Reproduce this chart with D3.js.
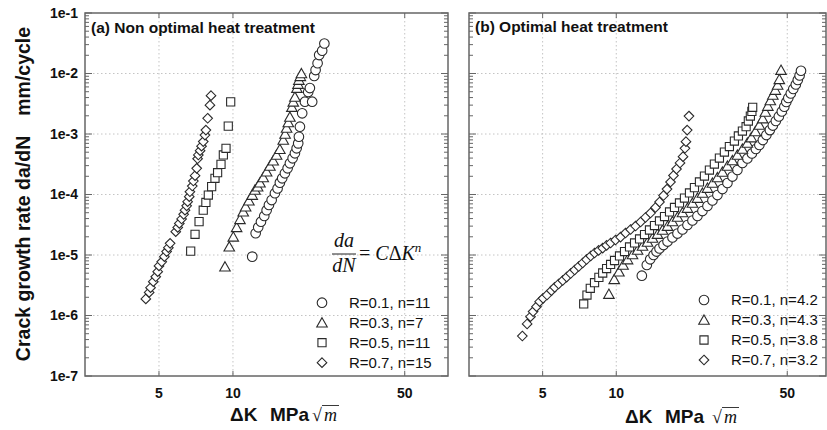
<!DOCTYPE html>
<html>
<head>
<meta charset="utf-8">
<script src="https://cdn.jsdelivr.net/npm/d3@7"></script>
<style>
  body { margin: 0; background: #fff; }
  svg { display: block; }
  text { font-family: Arial, "Liberation Sans", sans-serif; fill: #111; }
</style>
</head>
<body>
<svg id="chart" width="827" height="430"></svg>
<script>
// ---- data: [deltaK (MPa sqrt m), da/dN (mm/cycle)] ----
const aR01 = [[11.98,9.4e-6],[12.37,2.29e-5],[12.67,2.87e-5],[13.0,3.55e-5],[13.41,4.42e-5],[13.71,5.5e-5],[14.01,6.7e-5],[14.37,8.1e-5],[14.82,1.05e-4],[15.19,1.26e-4],[15.52,1.57e-4],[15.86,1.85e-4],[16.27,2.24e-4],[16.69,2.71e-4],[17.05,3.28e-4],[17.49,3.96e-4],[17.87,4.8e-4],[18.16,5.8e-4],[18.43,7.0e-4],[18.55,9.0e-4],[18.73,1.32e-3],[19.13,2.2e-3],[19.62,3.42e-3],[20.24,4.94e-3],[21.01,3.42e-3],[20.56,5.75e-3],[21.41,9.1e-3],[21.69,1.14e-2],[22.10,1.48e-2],[22.43,2.02e-2],[23.07,2.38e-2],[23.55,3.13e-2]];
const aR03 = [[9.28,6.4e-6],[9.66,1.37e-5],[10.03,2.0e-5],[10.35,2.87e-5],[10.68,3.89e-5],[11.01,5.2e-5],[11.26,6.3e-5],[11.61,7.9e-5],[11.98,9.8e-5],[12.29,1.19e-4],[12.60,1.35e-4],[12.88,1.57e-4],[13.28,1.92e-4],[13.71,2.38e-4],[14.14,2.96e-4],[14.58,3.62e-4],[15.05,4.5e-4],[15.52,5.6e-4],[16.02,8.0e-4],[16.3,1.0e-3],[16.53,1.26e-3],[16.8,1.55e-3],[17.05,1.91e-3],[17.37,2.79e-3],[17.6,3.4e-3],[17.87,4.1e-3],[18.21,5.75e-3],[18.4,6.7e-3],[18.55,7.8e-3],[18.8,9.0e-3],[18.99,1.0e-2]];
const aR05 = [[6.73,1.16e-5],[7.01,2.2e-5],[7.28,3.56e-5],[7.57,5.5e-5],[7.76,7.4e-5],[7.94,9.8e-5],[8.19,1.35e-4],[8.45,1.85e-4],[8.66,2.29e-4],[8.94,3.15e-4],[9.14,4.5e-4],[9.37,5.8e-4],[9.57,1.35e-3],[9.79,3.4e-3]];
const aR07 = [[4.42,1.88e-6],[4.56,2.41e-6],[4.62,2.88e-6],[4.74,3.62e-6],[4.85,4.37e-6],[4.94,5.3e-6],[5.0,6.6e-6],[5.13,7.7e-6],[5.26,9.4e-6],[5.37,1.14e-5],[5.46,1.32e-5],[5.55,1.56e-5],[5.85,2.43e-5],[5.96,2.86e-5],[6.05,3.33e-5],[6.18,3.94e-5],[6.30,4.7e-5],[6.38,5.5e-5],[6.48,6.5e-5],[6.54,7.6e-5],[6.64,9.2e-5],[6.68,1.11e-4],[6.83,1.38e-4],[6.90,1.67e-4],[7.01,2.05e-4],[7.12,2.71e-4],[7.18,3.9e-4],[7.23,4.5e-4],[7.35,5.3e-4],[7.45,6.3e-4],[7.57,7.5e-4],[7.69,9.6e-4],[7.76,1.16e-3],[7.89,1.82e-3],[8.06,3.0e-3],[8.14,4.3e-3]];

const bR01 = [[12.72,4.55e-6],[13.33,6.84e-6],[13.76,8.49e-6],[14.20,1.0e-5],[14.60,1.14e-5],[15.02,1.28e-5],[15.60,1.46e-5],[16.20,1.67e-5],[16.97,1.95e-5],[17.79,2.26e-5],[18.65,2.64e-5],[19.54,3.13e-5],[20.48,3.72e-5],[21.47,4.42e-5],[22.50,5.33e-5],[23.59,6.46e-5],[24.72,7.96e-5],[25.91,9.8e-5],[27.16,1.23e-4],[28.47,1.55e-4],[29.84,1.98e-4],[31.27,2.54e-4],[32.78,3.32e-4],[34.35,3.94e-4],[35.84,4.77e-4],[37.21,5.65e-4],[38.45,6.58e-4],[39.73,7.94e-4],[41.07,9.61e-4],[42.44,1.16e-3],[43.65,1.38e-3],[44.90,1.64e-3],[46.19,1.95e-3],[47.50,2.36e-3],[48.63,2.82e-3],[49.55,3.38e-3],[50.49,3.94e-3],[51.69,4.67e-3],[52.92,5.55e-3],[54.19,6.58e-3],[55.21,7.82e-3],[56.16,9.27e-3],[56.90,1.11e-2]];
const bR03 = [[9.33,2.26e-6],[9.81,3.96e-6],[10.25,5.30e-6],[10.66,6.84e-6],[11.12,8.42e-6],[11.65,1.02e-5],[12.22,1.21e-5],[12.80,1.41e-5],[13.42,1.64e-5],[14.07,1.91e-5],[14.74,2.22e-5],[15.45,2.59e-5],[16.20,3.01e-5],[16.97,3.58e-5],[17.79,4.25e-5],[18.65,5.04e-5],[19.54,5.98e-5],[20.48,7.24e-5],[21.47,8.75e-5],[22.50,1.06e-4],[23.59,1.28e-4],[24.72,1.55e-4],[25.91,1.91e-4],[27.16,2.36e-4],[28.47,2.96e-4],[29.84,3.65e-4],[31.27,4.5e-4],[32.78,5.65e-4],[34.35,7.10e-4],[35.67,8.75e-4],[37.04,1.10e-3],[38.45,1.41e-3],[39.67,1.80e-3],[40.69,2.31e-3],[41.65,2.90e-3],[42.64,3.58e-3],[43.65,4.42e-3],[44.69,5.33e-3],[45.67,6.46e-3],[46.40,8.02e-3],[47.15,1.14e-2]];
const bR05 = [[7.36,1.55e-6],[7.59,2.18e-6],[7.83,2.82e-6],[8.15,3.48e-6],[8.49,4.27e-6],[8.80,5.04e-6],[9.13,5.98e-6],[9.48,6.97e-6],[9.84,8.11e-6],[10.31,9.63e-6],[10.81,1.14e-5],[11.33,1.36e-5],[11.88,1.58e-5],[12.45,1.84e-5],[13.05,2.18e-5],[13.67,2.59e-5],[14.33,3.07e-5],[15.02,3.65e-5],[15.75,4.32e-5],[16.51,5.14e-5],[17.30,6.10e-5],[18.13,7.24e-5],[19.00,8.75e-5],[19.92,1.06e-4],[20.87,1.30e-4],[21.88,1.61e-4],[22.93,2.02e-4],[24.03,2.54e-4],[25.18,3.19e-4],[26.40,4.01e-4],[27.67,5.03e-4],[29.00,6.21e-4],[30.40,7.65e-4],[31.57,9.27e-4],[32.78,1.12e-3],[33.94,1.32e-3],[34.67,1.64e-3],[35.33,1.98e-3],[35.84,2.36e-3],[36.11,2.76e-3]];
const bR07 = [[4.13,4.58e-7],[4.32,7.24e-7],[4.46,9.55e-7],[4.57,1.16e-6],[4.72,1.40e-6],[4.86,1.69e-6],[5.02,1.92e-6],[5.21,2.18e-6],[5.43,2.57e-6],[5.60,2.92e-6],[5.81,3.32e-6],[6.04,3.79e-6],[6.27,4.32e-6],[6.51,4.94e-6],[6.76,5.65e-6],[7.02,6.46e-6],[7.29,7.38e-6],[7.56,8.42e-6],[7.86,9.63e-6],[8.15,1.08e-5],[8.47,1.19e-5],[8.80,1.30e-5],[9.13,1.44e-5],[9.48,1.58e-5],[9.93,1.77e-5],[10.41,1.98e-5],[10.91,2.31e-5],[11.44,2.64e-5],[11.99,3.01e-5],[12.57,3.51e-5],[13.17,4.17e-5],[13.80,4.94e-5],[14.47,6.10e-5],[15.02,7.52e-5],[15.60,9.62e-5],[16.12,1.23e-4],[16.66,1.61e-4],[17.13,2.06e-4],[17.63,2.64e-4],[18.22,3.32e-4],[18.74,4.22e-4],[19.09,5.81e-4],[19.27,7.46e-4],[19.49,1.16e-3],[19.82,1.98e-3]];

const legendA = ['R=0.1, n=11', 'R=0.3, n=7', 'R=0.5, n=11', 'R=0.7, n=15'];
const legendB = ['R=0.1, n=4.2', 'R=0.3, n=4.3', 'R=0.5, n=3.8', 'R=0.7, n=3.2'];
const markerKinds = ['circle', 'triangle', 'square', 'diamond'];

const xTickValues = [5, 10, 50];
const yTickValues = [1e-7, 1e-6, 1e-5, 1e-4, 1e-3, 1e-2, 1e-1];
const yTickLabels = ['1e-7', '1e-6', '1e-5', '1e-4', '1e-3', '1e-2', '1e-1'];

// ---- layout ----
const svg = d3.select('#chart');
const plotTop = 13, plotBottom = 376;
const axisColor = '#666';
const markColor = '#2a2a2a';

const yScale = d3.scaleLog().domain([1e-7, 1e-1]).range([plotBottom, plotTop]);

const markerPath = (kind, s) => {
  if (kind === 'circle') return `M${s},0A${s},${s} 0 1,1 ${-s},0A${s},${s} 0 1,1 ${s},0Z`;
  if (kind === 'triangle') return `M0,${-s * 1.05}L${s * 1.1},${s * 0.9}L${-s * 1.1},${s * 0.9}Z`;
  if (kind === 'square') return `M${-s * 0.85},${-s * 0.85}H${s * 0.85}V${s * 0.85}H${-s * 0.85}Z`;
  return `M0,${-s}L${s},0L0,${s}L${-s},0Z`;
};

const panels = [
  { x0: 85, x1: 448, kMax: 75, title: '(a) Non optimal heat treatment', titleY: 33,
    series: [aR01, aR03, aR05, aR07], legend: legendA, legendMarkX: 322, legendTextX: 349, legendY: 302.7,
    yLabels: true, formula: true, axisTitleX: 230, rootOffset: 82, axisTitleY: 421 },
  { x0: 469, x1: 826, kMax: 72, title: '(b) Optimal heat treatment', titleY: 32,
    series: [bR01, bR03, bR05, bR07], legend: legendB, legendMarkX: 704, legendTextX: 731, legendY: 300,
    yLabels: false, formula: false, axisTitleX: 625, rootOffset: 87, axisTitleY: 423 }
];

// minor log ticks on y
const minorY = [];
yTickValues.slice(0, -1).forEach(d => d3.range(2, 10).forEach(m => minorY.push(m * d)));

panels.forEach(p => {
  const xScale = d3.scaleLog().domain([2.5, p.kMax]).range([p.x0, p.x1]);
  const g = svg.append('g');

  // dotted grid
  g.selectAll('.gx').data(xTickValues).join('line')
    .attr('x1', d => xScale(d)).attr('x2', d => xScale(d))
    .attr('y1', plotTop).attr('y2', plotBottom)
    .attr('stroke', '#c4c4c4').attr('stroke-dasharray', '1.5,2.5');
  g.selectAll('.gy').data(yTickValues.slice(1, -1)).join('line')
    .attr('x1', p.x0).attr('x2', p.x1)
    .attr('y1', d => yScale(d)).attr('y2', d => yScale(d))
    .attr('stroke', '#c4c4c4').attr('stroke-dasharray', '1.5,2.5');

  // ticks (inside, both sides)
  const ticks = g.append('g').attr('stroke', axisColor).attr('stroke-width', 1);
  [[p.x0, 1], [p.x1, -1]].forEach(([x, dir]) => {
    ticks.selectAll(null).data(yTickValues).join('line')
      .attr('x1', x).attr('x2', x + dir * 7)
      .attr('y1', d => yScale(d)).attr('y2', d => yScale(d));
    ticks.selectAll(null).data(minorY).join('line')
      .attr('x1', x).attr('x2', x + dir * 4)
      .attr('y1', d => yScale(d)).attr('y2', d => yScale(d));
  });
  [[plotTop, 1], [plotBottom, -1]].forEach(([y, dir]) => {
    ticks.selectAll(null).data(xTickValues).join('line')
      .attr('x1', d => xScale(d)).attr('x2', d => xScale(d))
      .attr('y1', y).attr('y2', y + dir * 5);
  });

  // frame
  g.append('rect')
    .attr('x', p.x0).attr('y', plotTop)
    .attr('width', p.x1 - p.x0).attr('height', plotBottom - plotTop)
    .attr('fill', 'none').attr('stroke', axisColor).attr('stroke-width', 1.5);

  // tick labels
  g.selectAll('.xl').data(xTickValues).join('text')
    .attr('x', d => xScale(d)).attr('y', 398)
    .attr('text-anchor', 'middle')
    .style('font-size', '14px').style('font-weight', 'bold')
    .text(d => d);
  if (p.yLabels) {
    g.selectAll('.yl').data(yTickValues).join('text')
      .attr('x', 78).attr('y', d => yScale(d)).attr('dy', '0.35em')
      .attr('text-anchor', 'end')
      .style('font-size', '14px').style('font-weight', 'bold')
      .text((d, i) => yTickLabels[i]);
  }

  // data markers
  p.series.forEach((pts, i) => {
    g.append('g').selectAll('path').data(pts).join('path')
      .attr('transform', d => `translate(${xScale(d[0])},${yScale(d[1])})`)
      .attr('d', markerPath(markerKinds[i], 4.8))
      .attr('fill', '#fff').attr('stroke', markColor).attr('stroke-width', 1.1);
  });

  // panel title
  g.append('text')
    .attr('x', p.x0 + 6).attr('y', p.titleY)
    .style('font-size', '15.5px').style('font-weight', 'bold')
    .text(p.title);

  // legend
  const lg = g.append('g');
  p.legend.forEach((label, i) => {
    const y = p.legendY + i * 20;
    lg.append('path')
      .attr('transform', `translate(${p.legendMarkX},${y})`)
      .attr('d', markerPath(markerKinds[i], 4.8))
      .attr('fill', '#fff').attr('stroke', markColor).attr('stroke-width', 1.1);
    lg.append('text')
      .attr('x', p.legendTextX).attr('y', y).attr('dy', '0.36em')
      .style('font-size', '15px')
      .text(label);
  });

  // x axis title: "ΔK  MPa √m"
  const tx = p.axisTitleX, ty = p.axisTitleY;
  const t = g.append('text').attr('x', tx).attr('y', ty)
    .style('font-size', '19px').style('font-weight', 'bold');
  t.append('tspan').text('ΔK');
  t.append('tspan').attr('x', tx + 40).text('MPa');
  g.append('text').attr('x', tx + p.rootOffset).attr('y', ty)
    .style('font-family', '"Liberation Serif", "Times New Roman", serif')
    .style('font-size', '18px').text('√');
  g.append('text').attr('x', tx + p.rootOffset + 12).attr('y', ty)
    .style('font-family', '"Liberation Serif", "Times New Roman", serif')
    .style('font-style', 'italic').style('font-size', '18px').text('m');
  g.append('line')
    .attr('x1', tx + p.rootOffset + 10).attr('x2', tx + p.rootOffset + 27)
    .attr('y1', ty - 15.5).attr('y2', ty - 15.5)
    .attr('stroke', '#222').attr('stroke-width', 0.9);

  // Paris law formula
  if (p.formula) {
    const serif = '"Liberation Serif", "Times New Roman", serif';
    g.append('text').attr('x', 344).attr('y', 247).attr('text-anchor', 'middle')
      .style('font-family', serif).style('font-style', 'italic').style('font-size', '20px').text('da');
    g.append('line').attr('x1', 332).attr('x2', 356).attr('y1', 254).attr('y2', 254)
      .attr('stroke', '#222').attr('stroke-width', 1);
    g.append('text').attr('x', 344).attr('y', 272).attr('text-anchor', 'middle')
      .style('font-family', serif).style('font-style', 'italic').style('font-size', '20px').text('dN');
    const f = g.append('text').attr('x', 359).attr('y', 260)
      .style('font-family', serif).style('font-size', '20px');
    f.append('tspan').text('= ');
    f.append('tspan').style('font-style', 'italic').text('C');
    f.append('tspan').text('Δ');
    f.append('tspan').style('font-style', 'italic').text('K');
    f.append('tspan').attr('dy', -8).style('font-style', 'italic').style('font-size', '13px').text('n');
  }
});

// y axis title
svg.append('text')
  .attr('transform', 'translate(30,194) rotate(-90)')
  .attr('text-anchor', 'middle')
  .style('font-size', '19.5px').style('font-weight', 'bold')
  .call(t => {
    t.append('tspan').text('Crack growth rate da/dN');
    t.append('tspan').attr('dx', 20).text('mm/cycle');
  });
</script>
</body>
</html>
